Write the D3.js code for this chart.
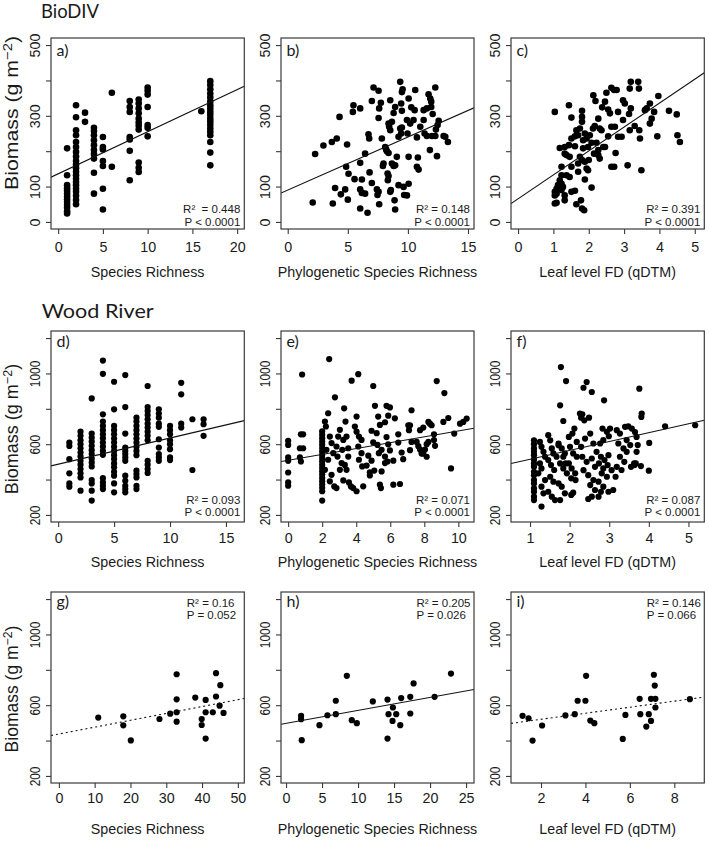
<!DOCTYPE html>
<html><head><meta charset="utf-8">
<script src="https://cdn.jsdelivr.net/npm/d3@7"></script>
<style>
body{margin:0;background:#fff}
svg{display:block}
text{font-family:"Liberation Sans",Arial,sans-serif;fill:#1a1a1a}
</style>
</head><body>
<svg id="c" width="709" height="844"></svg>
<script>
// ---------------- DATA ----------------
const groupTitles = ["BioDIV", "Wood River"];
const panelLetters = ["a)","b)","c)","d)","e)","f)","g)","h)","i)"];
const xTitles = ["Species Richness","Phylogenetic Species Richness","Leaf level FD (qDTM)"];
const yTitle = "Biomass (g m";

const yTicksBio = [0,100,200,300,400,500];
const yLabelsBio = [0,100,300,500];
const yTicksWood = [200,400,600,800,1000,1200];
const yLabelsWood = [200,600,1000];

const xTicksA = [0,5,10,15,20];
const xTicksB = [0,5,10,15];
const xTicksC = [0,1,2,3,4,5];
const xTicksD = [0,5,10,15];
const xTicksE = [0,2,4,6,8,10];
const xTicksF = [1,2,3,4,5];
const xTicksG = [0,10,20,30,40,50];
const xTicksH = [0,5,10,15,20,25];
const xTicksI = [2,4,6,8];

// regression fits [intercept, slope]
const fitA = [136,11.9], fitB = [90,15.0], fitC = [65.5,67.6];
const fitD = [487,14.8], fitE = [509,16.6], fitF = [465,50];
const fitG = [437,3.88], fitH = [497,7.34], fitI = [486,17.1];

const r2Text = ["R\u00B2\u00A0 = 0.448","R\u00B2 = 0.148","R\u00B2 = 0.391","R\u00B2 = 0.093","R\u00B2 = 0.071","R\u00B2 = 0.087","R\u00B2 = 0.16","R\u00B2 = 0.205","R\u00B2 = 0.146"];
const pText = ["P < 0.0001","P < 0.0001","P < 0.0001","P < 0.0001","P < 0.0001","P < 0.0001","P = 0.052","P = 0.026","P = 0.066"];

// panel a: species richness -> biomass
const aRich = [1,2,3,4,5,6,8,9,10,16,17];
const aBiomass = [
 [208,132,104,95,88,80,72,64,56,48,40,30,24],
 [330,296,259,245,226,212,198,185,172,162,152,142,132,122,113,104,94,85,74,62,50],
 [309,283],
 [266,257,245,231,217,203,192,179,139,80],
 [240,212,205,172,158,94,35],
 [365,156],
 [342,325,311,240,233,201,118],
 [346,335,321,307,292,281,272,261,168,153,141],
 [380,371,360,325,274,266,242],
 [313],
 [398,387,375,363,352,340,330,321,311,302,292,283,274,264,255,245,226,196,160]
];

const bPts = [[2.08,55],[2.28,192],[2.97,216],[3.67,226],[4.08,236],[3.75,52],[3.94,96],[4.42,78],[4.31,297],[4.78,92],[5.0,63],[4.94,219],[4.86,156],[5.06,136],[5.47,330],[5.42,311],[6.03,321],[5.56,121],[6.03,167],[6.17,120],[6.03,92],[6.17,82],[6.44,80],[6.03,38],[6.64,26],[6.44,193],[6.72,248],[6.78,236],[6.81,140],[7.0,110],[7.14,380],[7.56,371],[7.0,342],[7.56,294],[7.61,321],[7.75,337],[7.83,236],[7.97,165],[7.92,158],[7.56,85],[7.42,92],[7.47,76],[7.61,50],[8.11,212],[8.19,205],[8.25,200],[8.39,195],[8.31,137],[8.39,130],[8.33,118],[8.39,278],[8.44,269],[8.53,259],[8.53,344],[8.67,283],[8.81,308],[8.94,325],[8.53,85],[8.58,90],[8.67,165],[8.81,158],[8.94,160],[9.08,184],[8.89,61],[8.94,35],[9.22,104],[9.36,396],[9.56,375],[9.5,367],[9.36,264],[9.5,267],[9.44,335],[9.5,314],[9.64,99],[9.69,76],[9.22,241],[9.44,250],[10.06,349],[10.28,324],[10.56,316],[10.61,373],[11.31,316],[11.58,321],[11.72,361],[11.86,349],[11.94,340],[11.94,325],[12.28,380],[12.06,305],[12.56,286],[12.47,274],[12.33,261],[11.58,243],[12.0,243],[12.28,243],[9.92,288],[10.19,278],[10.47,288],[11.03,269],[11.31,288],[10.75,239],[11.39,250],[10.06,184],[10.83,182],[10.75,156],[10.89,148],[11.83,203],[12.42,186],[12.97,243],[13.11,241],[13.33,226],[9.97,250],[10.06,108],[9.92,75]];

const cPts = [[1.04,311],[1.44,330],[1.51,295],[1.81,314],[1.81,297],[1.81,283],[2.13,358],[2.19,342],[2.64,379],[2.72,373],[2.79,373],[2.50,365],[2.46,340],[2.38,324],[2.55,318],[2.60,307],[2.83,311],[2.97,344],[3.02,335],[3.19,396],[3.40,396],[3.16,377],[3.42,377],[3.19,321],[3.14,305],[2.97,288],[3.16,259],[3.30,271],[3.43,259],[3.45,236],[3.59,316],[3.73,335],[3.64,321],[3.85,311],[3.78,292],[3.73,278],[3.97,356],[4.27,314],[4.49,304],[4.51,245],[4.58,226],[3.94,242],[2.83,241],[2.93,241],[2.55,242],[2.74,269],[2.64,269],[2.27,292],[2.17,271],[2.12,264],[2.31,264],[2.36,259],[2.03,245],[1.89,250],[1.75,264],[1.65,259],[1.70,245],[1.61,242],[1.51,236],[1.84,231],[1.94,236],[2.08,224],[2.22,224],[2.41,212],[2.46,212],[2.27,189],[2.31,179],[2.15,193],[1.98,212],[1.84,208],[1.61,214],[1.44,217],[1.18,209],[1.32,193],[1.37,189],[1.75,184],[1.81,175],[1.89,170],[2.00,175],[1.94,151],[1.98,146],[1.70,165],[1.51,156],[1.37,132],[1.46,127],[1.23,156],[1.23,132],[1.18,118],[1.13,104],[1.09,94],[1.04,85],[1.04,75],[1.09,80],[1.23,90],[1.27,99],[1.32,75],[1.32,61],[1.51,85],[1.61,88],[1.04,52],[1.09,54],[1.65,50],[1.78,61],[1.81,38],[1.87,33],[1.89,120],[2.08,97],[2.64,156],[2.72,156],[3.10,160],[3.49,146],[2.76,195],[2.27,203],[1.32,212],[1.46,184],[1.23,108],[1.15,94],[1.70,142]];

// panel d: species richness -> biomass (Wood River)
const dRich = [1,2,3,4,5,6,7,8,9,10,11,12,13];
const dBiomass = [
 [609,590,515,435,378,360],
 [671,647,622,600,577,553,531,506,484,459,435,412,337],
 [859,660,637,615,591,566,544,519,497,474,397,378,337,281],
 [1073,998,769,728,703,679,656,634,609,587,562,540,408,384,365,346],
 [953,797,703,679,656,632,609,585,562,538,516,491,469,444,422,378,328],
 [991,810,660,581,562,544,525,506,422,393,365,346,328],
 [750,728,703,679,656,632,609,585,562,538,450,431,412,365,346],
 [929,810,788,765,741,716,694,671,647,622,506,484,459,437],
 [797,773,750,716,698,628,581,544,525,506],
 [703,679,656,622,600,572,525,510],
 [947,882,716,694],
 [741,454],
 [741,713,647]
];

const ePts = [[0,619],[0,596],[0,525],[0,506],[0,440],[0,384],[0,365],[0.82,994],[0.75,656],[0.88,656],[0.69,577],[0.88,577],[0.69,525],[0.75,502],
[2,672],[2,653],[2,634],[2,615],[2,597],[2,578],[2,559],[2,540],[2,522],[2,503],[2,484],[2,465],[2,447],[2,428],[2,409],[2,390],[2,372],[2,353],[2,334],[2,281],
[2.41,1081],[2.75,865],[2.16,728],[2.22,700],[2.35,775],[2.45,643],[2.25,568],[2.35,512],[2.16,455],[2.55,427],[2.45,390],[2.71,361],[2.84,352],[2.55,606],[2.65,549],[2.84,587],[2.94,643],[3.04,681],[3.18,568],[2.90,530],[3.14,493],[3.04,455],[3.29,803],[3.37,728],[3.43,643],[3.24,624],[3.53,577],[3.53,530],[3.33,483],[3.43,455],[3.24,395],[3.57,384],[3.69,361],[3.73,959],[4.12,996],[4.02,756],[3.92,700],[4.02,671],[4.16,643],[4.31,624],[4.12,587],[4.31,549],[4.16,512],[4.35,474],[4.02,334],[4.41,362],[3.82,352],[5.0,929],[5.10,817],[4.90,676],[5.0,610],[4.71,535],[4.90,507],[4.61,479],[4.80,441],[4.80,423],[5.06,451],[5.29,756],[5.39,709],[5.20,662],[5.25,596],[5.49,568],[5.33,549],[5.69,493],[5.49,446],[5.39,371],[5.45,352],[5.78,817],[5.98,808],[5.88,761],[5.69,724],[5.78,640],[5.88,599],[5.98,565],[5.69,530],[5.84,502],[6.18,507],[6.27,746],[6.18,371],[6.47,609],[6.67,553],[6.57,375],[6.76,515],[6.47,656],
[7.16,707],[7.25,792],[7.06,707],[7.10,679],[7.25,613],[7.16,566],[7.55,613],[7.65,589],[7.75,570],[7.84,547],[7.94,547],[8.04,570],[8.14,529],[7.75,679],[7.94,694],[8.24,726],[8.33,716],[8.43,707],[8.14,600],[8.24,613],[8.63,591],[8.73,957],[9.18,889],[8.57,656],[8.57,623],[9.12,726],[9.41,748],[9.57,463],[10.10,716],[10.49,745],[10.29,726],[9.76,660]];

const fPts = [[1.78,1036],[1.91,957],[1.76,820],[1.84,731],[2.26,773],[2.29,750],[2.32,769],[2.35,919],[2.43,951],[2.56,895],[2.87,848],
[1.1,622],[1.1,600],[1.1,576],[1.1,557],[1.1,538],[1.1,514],[1.1,491],[1.1,473],[1.1,444],[1.1,425],[1.1,397],[1.1,378],[1.1,350],[1.1,331],[1.1,303],[1.1,284],[1.29,247],
[1.25,613],[1.29,585],[1.34,557],[1.38,529],[1.25,491],[1.29,463],[1.21,435],[1.38,397],[1.29,360],[1.34,322],
[1.46,651],[1.51,622],[1.55,576],[1.59,548],[1.46,510],[1.53,482],[1.61,454],[1.51,416],[1.59,388],[1.46,331],[1.55,303],[1.63,284],
[1.72,604],[1.80,576],[1.88,548],[1.67,529],[1.76,491],[1.84,463],[1.93,435],[1.72,378],[1.80,360],[1.88,322],[1.76,284],[1.72,594],[1.84,529],[1.90,491],
[1.98,641],[2.12,688],[2.07,660],[2.18,613],[2.01,585],[2.09,548],[2.18,529],[1.98,491],[2.05,463],[2.14,435],[2.04,407],[2.15,397],[2.09,326],[2.04,313],
[2.29,585],[2.39,632],[2.52,660],[2.60,604],[2.32,529],[2.43,500],[2.56,519],[2.64,472],[2.35,453],[2.47,425],[2.60,397],[2.52,369],[2.64,341],[2.47,290],[2.56,303],[2.37,735],[2.49,750],
[2.68,557],[2.77,604],[2.85,623],[2.94,670],[3.02,688],[2.79,529],[2.88,510],[2.98,538],[2.74,491],[2.85,463],[2.96,482],[3.06,453],[2.81,435],[2.94,416],[2.73,388],[2.85,360],[2.79,331],[2.98,331],[2.73,303],[3.10,341],[2.99,645],[2.83,688],
[3.19,679],[3.27,660],[3.40,698],[3.48,701],[3.57,688],[3.65,669],[3.23,604],[3.36,576],[3.44,623],[3.53,595],[3.27,529],[3.38,500],[3.19,472],[3.31,454],[3.16,416],[3.55,472],[3.64,482],[3.44,557],
[3.69,641],[3.72,595],[3.69,557],[3.67,491],[3.63,491],[3.80,476],[4.01,607],[4.00,450],[3.81,754],[3.82,773],[3.76,914],[4.41,701],[5.17,707]];

const gPts = [[11.0,530],[18.0,537],[18.0,486],[20.1,401],[28.1,522],[31.1,552],[32.9,775],[32.9,633],[32.9,560],[32.9,507],[38.1,643],[39.9,522],[39.9,488],[41.0,630],[41.0,560],[41.0,411],[43.0,560],[43.9,781],[43.9,649],[45.1,713],[44.9,597],[46.0,556]];
const hPts = [[2.09,540],[2.09,521],[2.18,402],[4.64,487],[5.75,543],[6.91,625],[6.91,549],[8.44,766],[9.13,515],[9.83,498],[12.05,621],[14.09,632],[14.23,549],[14.09,411],[14.84,587],[14.79,511],[15.30,549],[15.86,487],[15.99,640],[17.25,647],[17.71,723],[17.25,553],[20.63,647],[22.9,779]];
const iPts = [[1.17,540],[1.44,526],[1.62,400],[2.05,485],[3.10,542],[3.52,549],[3.65,625],[4.0,625],[4.03,766],[4.22,513],[4.40,498],[5.68,409],[5.80,545],[6.44,636],[6.47,549],[6.74,479],[6.85,549],[6.95,511],[6.95,636],[7.08,772],[7.12,711],[7.15,636],[7.15,587],[8.70,634]];

// ---------------- LAYOUT ----------------
const aPts = aRich.flatMap((r,i)=>aBiomass[i].map(v=>[r,v]));
const dPts = dRich.flatMap((r,i)=>dBiomass[i].map(v=>[r,v]));

const colsPx = [[51,244.3],[281,474],[511,704.3]];
const rowsCfg = [
 {top:38,bottom:229,ydom:[-20,520],yticks:yTicksBio,ylabs:yLabelsBio,tickBase:252.3,xlabBase:277,stat:[213,225.5],mode:'br',ytY:113,ytScale:1.15,ytSize:18.5,labScale:1,labBase:56,r:3.3},
 {top:331,bottom:522,ydom:[160,1240],yticks:yTicksWood,ylabs:yLabelsWood,tickBase:543.3,xlabBase:567,stat:[503.5,516],mode:'br',ytY:429,ytScale:1,ytSize:18,labScale:0.83,labBase:347,r:3.1},
 {top:592,bottom:783,ydom:[160,1240],yticks:yTicksWood,ylabs:yLabelsWood,tickBase:803.3,xlabBase:833.5,stat:[606.5,618.5],mode:'tr',ytY:689,ytScale:1,ytSize:17.5,labScale:0.83,labBase:607,r:3.1}
];

const panels = [
 {row:0,col:0,pts:aPts,xdom:[-0.8,20.8],xt:xTicksA,fit:fitA,dash:false},
 {row:0,col:1,pts:bPts,xdom:[-0.56,15.5],xt:xTicksB,fit:fitB,dash:false},
 {row:0,col:2,pts:cPts,xdom:[-0.2,5.27],xt:xTicksC,fit:fitC,dash:false},
 {row:1,col:0,pts:dPts,xdom:[-0.64,16.64],xt:xTicksD,fit:fitD,dash:false},
 {row:1,col:1,pts:ePts,xdom:[-0.42,10.92],xt:xTicksE,fit:fitE,dash:false},
 {row:1,col:2,pts:fPts,xdom:[0.52,5.4],xt:xTicksF,fit:fitF,dash:false},
 {row:2,col:0,pts:gPts,xdom:[-2.2,51.8],xt:xTicksG,fit:fitG,dash:true},
 {row:2,col:1,pts:hPts,xdom:[-0.7,26.1],xt:xTicksH,fit:fitH,dash:false},
 {row:2,col:2,pts:iPts,xdom:[0.65,9.35],xt:xTicksI,fit:fitI,dash:true}
];

const svg = d3.select("#c");
const defs = svg.append("defs");
const FS = 14.3;
const fmt = d => String(d);

// group titles
svg.append("text").attr("x",41).attr("y",18)
  .style("font-family","Lato, sans-serif").attr("font-size",19).attr("textLength",58).attr("lengthAdjust","spacingAndGlyphs").text(groupTitles[0]);
svg.append("text").attr("x",41.7).attr("y",317.5)
  .style("font-family","Lato, sans-serif").attr("font-size",19).attr("textLength",112).attr("lengthAdjust","spacingAndGlyphs").text(groupTitles[1]);

panels.forEach((p,i)=>{
  const row = rowsCfg[p.row];
  const [x0,x1] = colsPx[p.col];
  const x = d3.scaleLinear().domain(p.xdom).range([x0,x1]);
  const y = d3.scaleLinear().domain(row.ydom).range([row.bottom,row.top]);
  const g = svg.append("g");
  const cid = "clip"+i;
  defs.append("clipPath").attr("id",cid).append("rect")
    .attr("x",x0).attr("y",row.top).attr("width",x1-x0).attr("height",row.bottom-row.top);

  // points
  g.append("g").selectAll("circle").data(p.pts).join("circle")
    .attr("cx",d=>x(d[0])).attr("cy",d=>y(d[1])).attr("r",row.r).attr("fill","#000");

  // regression line
  const [b0,b1] = p.fit;
  const xa = p.xdom[0], xb = p.xdom[1];
  g.append("line").attr("clip-path",`url(#${cid})`)
    .attr("x1",x(xa)).attr("y1",y(b0+b1*xa)).attr("x2",x(xb)).attr("y2",y(b0+b1*xb))
    .attr("stroke","#111").attr("stroke-width",1.1)
    .attr("stroke-dasharray",p.dash?"2,3":null);

  // box
  g.append("rect").attr("x",x0).attr("y",row.top).attr("width",x1-x0).attr("height",row.bottom-row.top)
    .attr("fill","none").attr("stroke","#3a3a3a").attr("stroke-width",1.2);

  // x axis
  const xAx = g.append("g").attr("transform",`translate(0,${row.bottom})`)
    .call(d3.axisBottom(x).tickValues(p.xt).tickFormat(fmt).tickSize(5).tickSizeOuter(0));
  xAx.select(".domain").remove();
  xAx.selectAll("line").attr("stroke","#3a3a3a").attr("stroke-width",1.1);
  xAx.selectAll("text").attr("y",row.tickBase-row.bottom).attr("dy",0)
    .attr("font-size",FS).attr("fill","#1a1a1a").style("font-family","'Liberation Sans',Arial,sans-serif");

  // y axis
  const yAx = g.append("g").attr("transform",`translate(${x0},0)`)
    .call(d3.axisLeft(y).tickValues(row.yticks).tickSize(5).tickSizeOuter(0)
      .tickFormat(d=>row.ylabs.includes(d)?String(d):""));
  yAx.select(".domain").remove();
  yAx.selectAll("line").attr("stroke","#3a3a3a").attr("stroke-width",1.1);
  yAx.selectAll("text").attr("x",0).attr("y",0).attr("dy",0).attr("text-anchor","middle")
    .attr("transform",`translate(-11.5,0) rotate(-90) scale(${row.labScale},1)`)
    .attr("font-size",FS).attr("fill","#1a1a1a").style("font-family","'Liberation Sans',Arial,sans-serif");

  // x title
  g.append("text").attr("x",(x0+x1)/2).attr("y",row.xlabBase).attr("text-anchor","middle")
    .attr("font-size",FS).text(xTitles[p.col]);

  // panel letter
  g.append("text").attr("x",x0+5.5).attr("y",row.labBase)
    .style("font-family","Lato, sans-serif").attr("font-size",16).text(panelLetters[i]);

  // stats
  const anchor = row.mode==='br' ? "end" : "start";
  const sx = row.mode==='br' ? x1-4 : x1-57.5;
  g.append("text").attr("x",sx).attr("y",row.stat[0]).attr("text-anchor",anchor).attr("font-size",11.5).text(r2Text[i]);
  g.append("text").attr("x",sx).attr("y",row.stat[1]).attr("text-anchor",anchor).attr("font-size",11.5).text(pText[i]);

  // y title (left column only)
  if(p.col===0){
    const t = svg.append("text").attr("text-anchor","middle").attr("font-size",row.ytSize)
      .attr("transform",`translate(17.5,${row.ytY}) rotate(-90) scale(${row.ytScale},1)`);
    t.append("tspan").text(yTitle);
    t.append("tspan").attr("dy",-5.5).attr("font-size",row.ytSize*0.7).text("\u22122");
    t.append("tspan").attr("dy",5.5).text(")");
  }
});
</script>
</body></html>
